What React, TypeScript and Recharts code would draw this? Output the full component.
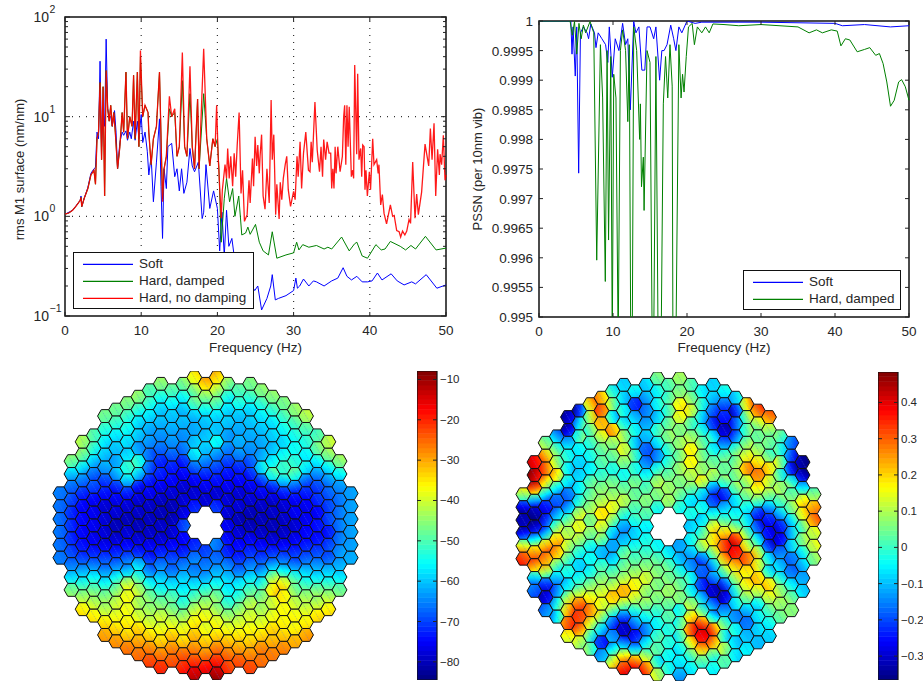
import React from 'react';
import { LineChart, Line, XAxis, YAxis, ReferenceLine, ReferenceArea, Legend, ScatterChart, Scatter } from 'recharts';

const FONT = '"Liberation Sans", Arial, sans-serif';
const TEXT = '#262626';

const freqTicks = [0, 10, 20, 30, 40, 50];
const logTicks = [0.1, 0.2, 0.3, 0.4, 0.5, 0.6, 0.7, 0.8, 0.9, 1, 2, 3, 4, 5, 6, 7, 8, 9, 10, 20, 30, 40, 50, 60, 70, 80, 90, 100];
const pssnTicks = [1, 0.9995, 0.999, 0.9985, 0.998, 0.9975, 0.997, 0.9965, 0.996, 0.9955, 0.995];

const softF = [0, 1, 2, 2.1, 2.2, 2.5, 3, 3.4, 3.8, 4, 4.2, 4.4, 4.6, 4.8, 5, 5.2, 5.4, 5.6, 5.8, 6, 6.2, 6.5, 6.7, 6.9, 7.2, 7.5, 7.7, 8, 8.2, 8.5, 8.7, 9, 9.2, 9.5, 9.7, 10, 10.2, 10.5, 10.8, 11, 11.3, 11.6, 12, 12.4, 12.6, 12.8, 13, 13.3, 13.5, 14, 14.4, 14.7, 15, 15.3, 15.6, 16, 16.4, 16.7, 17, 17.5, 18, 18.2, 18.5, 19, 19.5, 20, 20.3, 20.6, 20.9, 21.2, 21.5, 21.9, 22.2, 24.9, 25.3, 25.8, 26.5, 27, 27.2, 27.6, 28, 29, 30, 30.3, 30.5, 30.8, 31.3, 32, 32.6, 33, 34, 35, 35.8, 36.5, 37, 37.6, 38.3, 39, 39.7, 40.3, 41, 41.6, 42.8, 43.6, 44.5, 45.5, 46, 47.4, 48.8, 50];
const softV = [1.05, 1.15, 1.45, 1.6, 1.25, 1.5, 1.95, 2.7, 3, 3.1, 7, 6, 36, 5, 12, 8, 60, 12, 10, 10, 8, 11.5, 7, 3, 5.5, 7, 6.5, 7.2, 5.8, 7, 6, 9, 5.8, 9, 6, 10.5, 5.5, 7, 4.5, 2.6, 4, 1.4, 3.5, 9.5, 2, 0.6, 3, 1.9, 5, 5.4, 2.5, 3, 1.8, 3, 1.7, 2.2, 4.8, 3.2, 2.8, 3.5, 0.95, 1.1, 3.3, 1.2, 1.8, 1.2, 0.45, 1.1, 0.4, 1.15, 0.5, 0.6, 0.4, 0.18, 0.2, 0.115, 0.15, 0.2, 0.26, 0.145, 0.15, 0.16, 0.18, 0.24, 0.19, 0.2, 0.235, 0.2, 0.225, 0.22, 0.2, 0.225, 0.24, 0.305, 0.25, 0.23, 0.25, 0.22, 0.22, 0.225, 0.27, 0.23, 0.265, 0.225, 0.205, 0.22, 0.21, 0.26, 0.19, 0.205];

const dampedF = [0, 0.5, 1, 1.5, 2, 2.1, 2.2, 2.5, 3, 3.4, 3.8, 4, 4.2, 4.4, 4.6, 4.8, 5, 5.2, 5.4, 5.6, 5.8, 6, 6.2, 6.4, 6.6, 6.9, 7.2, 7.5, 7.7, 8, 8.2, 8.5, 8.8, 9, 9.2, 9.5, 9.7, 9.9, 10.2, 10.5, 10.9, 11, 11.3, 11.6, 12, 12.4, 12.8, 13, 13.3, 13.7, 14, 14.4, 14.7, 15, 15.4, 15.7, 16, 16.4, 16.7, 17, 17.4, 17.6, 18.2, 18.6, 19, 19.4, 19.7, 20, 20.2, 20.5, 20.9, 21.2, 21.6, 22, 22.3, 22.8, 23.2, 23.7, 24, 24.3, 25, 25.5, 26, 26.7, 27.2, 27.8, 29, 30, 30.4, 30.7, 31.2, 32, 33, 34, 34.5, 35, 36.3, 37.3, 38, 38.3, 39, 39.7, 40.8, 41.5, 42, 42.7, 44, 44.7, 45.4, 46, 47.3, 48.7, 50];
const dampedV = [1.05, 1.08, 1.15, 1.28, 1.45, 1.55, 1.25, 1.5, 1.9, 2.6, 2.9, 2.1, 6, 7, 22, 3.7, 20, 1.6, 29, 12, 9, 13, 8, 11, 7, 3, 5, 11, 7, 28, 6, 10, 8, 26, 6, 28, 5, 40, 10, 13, 11, 7, 3.3, 6, 8, 28, 1.5, 3, 4, 12, 10, 11, 4, 5, 23, 5, 4, 17, 5, 3, 15, 3, 17, 6, 3.2, 6, 5, 6, 3, 0.55, 1.5, 2.4, 1.4, 1.9, 1, 1.6, 0.65, 0.68, 0.78, 0.66, 0.83, 0.55, 0.45, 0.41, 0.7, 0.38, 0.41, 0.43, 0.55, 0.46, 0.52, 0.49, 0.51, 0.47, 0.49, 0.47, 0.62, 0.45, 0.53, 0.55, 0.4, 0.38, 0.52, 0.46, 0.47, 0.56, 0.5, 0.46, 0.51, 0.47, 0.63, 0.46, 0.48];

const noDampF = [0, 0.5, 1, 1.5, 2, 2.1, 2.2, 2.5, 3, 3.4, 3.8, 4, 4.2, 4.4, 4.6, 4.8, 5, 5.2, 5.4, 5.6, 5.8, 6, 6.2, 6.4, 6.6, 6.9, 7.2, 7.5, 7.7, 8, 8.2, 8.5, 8.8, 9, 9.2, 9.5, 9.7, 9.9, 10.2, 10.5, 10.9, 11, 11.3, 11.6, 12, 12.4, 12.8, 13, 13.3, 13.7, 14, 14.4, 14.7, 15, 15.4, 15.7, 16, 16.4, 16.7, 17, 17.4, 17.6, 18.2, 18.6, 19, 19.4, 19.7, 19.9, 20.1, 20.5, 20.65, 21, 21.2, 21.35, 21.55, 21.75, 22, 22.2, 22.4, 22.6, 22.85, 23.1, 23.3, 23.55, 23.9, 24.15, 24.3, 24.6, 24.75, 24.95, 25.15, 25.3, 25.5, 25.6, 25.8, 26, 26.25, 26.5, 26.8, 27.05, 27.2, 27.4, 27.65, 27.8, 28.1, 28.25, 28.45, 28.65, 28.9, 29.1, 29.3, 29.6, 30, 30.2, 30.45, 30.6, 30.85, 31.05, 31.3, 31.6, 31.95, 32.15, 32.3, 32.45, 32.6, 32.8, 33.1, 33.4, 33.6, 33.8, 33.95, 34.2, 34.4, 34.65, 34.87, 35, 35.15, 35.3, 35.45, 35.57, 35.8, 36.1, 36.4, 36.57, 36.7, 36.85, 37, 37.15, 37.3, 37.58, 37.75, 37.88, 38.02, 38.28, 38.41, 38.58, 38.8, 38.94, 39.07, 39.25, 39.37, 39.5, 39.68, 39.94, 40.1, 40.38, 40.55, 40.9, 41.1, 41.2, 41.43, 41.65, 41.87, 42.2, 42.7, 43, 43.2, 43.53, 43.85, 44.05, 44.3, 44.6, 44.85, 45.15, 45.35, 45.63, 45.93, 46.15, 46.37, 46.8, 47.25, 47.47, 47.73, 47.95, 48.17, 48.43, 48.65, 48.9, 49.13, 49.22, 49.43, 49.65, 49.87, 50];
const noDampV = [1.05, 1.08, 1.15, 1.28, 1.45, 1.55, 1.25, 1.5, 1.9, 2.6, 2.9, 2.1, 6, 7, 22, 3.7, 20, 1.6, 29, 12, 9, 13, 8, 11, 7, 3, 5, 11, 7, 28, 6, 10, 8, 26, 6, 28, 5, 46, 10, 13, 11, 7, 3.3, 6, 8, 28, 1.4, 3, 4, 16, 10, 12, 4, 5, 44, 5, 4, 32, 5, 3, 15, 3, 48, 6, 3.2, 6, 5, 13, 4, 0.96, 1.85, 3.3, 2.4, 4.8, 2.4, 4, 2, 4.3, 2.5, 5.2, 11, 1.7, 2.9, 0.89, 1.04, 2.3, 1.36, 3.8, 2, 6.3, 3.2, 5.2, 2.7, 4, 6.6, 1.6, 1.18, 3, 1.36, 14.7, 3.7, 6.6, 1.04, 2.1, 0.94, 2.2, 1.47, 2.4, 3.3, 4, 1.85, 1.26, 1.78, 1.47, 4, 2.5, 5.6, 1.9, 4.3, 7, 2.9, 2.8, 5.6, 3.5, 6.3, 14, 4.6, 2.8, 5, 2.5, 5.9, 3.7, 5.6, 4.3, 4.3, 1.9, 3, 1.9, 5, 2.7, 5, 2.8, 4, 10, 13, 3.3, 13, 5, 12.6, 2.5, 2.9, 2.4, 33, 4.2, 27, 3.7, 4.8, 2.5, 5.2, 5, 1.85, 2.9, 1.6, 2.8, 1.85, 6, 3.3, 3.7, 2.7, 3.3, 1.3, 1.65, 1.07, 0.84, 1.3, 1, 1.02, 0.72, 0.7, 0.62, 0.71, 0.65, 0.71, 0.93, 0.85, 3.5, 0.96, 1.67, 1.04, 1.75, 5.3, 4.2, 3.2, 7.6, 3.7, 8.6, 1.6, 4.7, 2.6, 4.2, 3.3, 6.5, 2.3, 2.6];

const pssnSoftF = [0, 4.3, 4.46, 4.6, 4.9, 5.1, 5.36, 5.6, 6, 6.5, 6.7, 7, 7.5, 7.7, 8, 8.5, 9, 9.3, 9.5, 9.9, 10.3, 10.8, 11.3, 11.7, 12, 12.34, 12.8, 13.1, 13.5, 13.9, 14.3, 14.6, 15, 15.5, 15.8, 16.3, 16.6, 16.9, 17.3, 17.8, 18.2, 18.5, 18.9, 19.3, 20, 21.1, 22, 25, 30, 35, 40, 41, 44, 47.5, 50];
const pssnSoftV = [1, 1, 0.99944, 0.9999, 0.99907, 0.9999, 0.99743, 0.9998, 0.9999, 0.9998, 0.9997, 0.99995, 0.9998, 0.99955, 0.9998, 0.9997, 0.9996, 0.9993, 0.9999, 0.99905, 0.9997, 0.9995, 0.99996, 0.9996, 0.9997, 0.9985, 0.99999, 0.9998, 0.9999, 0.99917, 0.99917, 0.9999, 0.9999, 0.9997, 0.9999, 0.9990, 0.9995, 0.9995, 0.9996, 0.99993, 0.9997, 0.9995, 0.9999, 0.9998, 1, 0.99996, 0.99998, 0.99998, 0.99998, 0.99997, 0.99996, 0.99992, 0.99994, 0.9999, 0.99992];

const pssnDampedF = [0, 4.2, 4.5, 4.8, 5.1, 5.4, 5.7, 6, 6.3, 6.9, 7.4, 7.8, 8.3, 8.6, 8.96, 9.2, 9.4, 9.7, 9.9, 10.1, 10.4, 10.7, 11, 11.3, 11.7, 12, 12.2, 12.4, 12.6, 12.8, 13.2, 13.6, 13.7, 13.85, 14.1, 14.2, 14.6, 15, 15.3, 15.5, 15.8, 16.1, 16.5, 16.8, 17.1, 17.4, 17.7, 18, 18.1, 18.3, 18.5, 18.9, 19.2, 19.4, 19.6, 19.9, 20.2, 20.7, 21, 21.4, 22, 22.5, 23, 23.5, 25, 27, 30, 35, 36.5, 37.5, 38.3, 39.5, 40.3, 40.8, 41.4, 42, 43, 44, 44.7, 45.5, 46, 46.5, 47, 47.5, 48, 48.6, 49, 49.5, 50];
const pssnDampedV = [1, 1, 0.99976, 0.99999, 0.99944, 0.99996, 0.9997, 0.99993, 0.9998, 0.99999, 0.9998, 0.99596, 0.9996, 0.9987, 0.9956, 0.9995, 0.9963, 0.9994, 0.9945, 0.9991, 0.9987, 0.9945, 0.9995, 0.99985, 0.9995, 0.9983, 0.9996, 0.9945, 0.9945, 0.9999, 0.9995, 0.998, 0.9986, 0.9972, 0.9977, 0.9968, 0.9995, 0.9993, 0.9945, 0.9945, 0.9994, 0.9945, 0.9945, 0.9986, 0.9994, 0.9987, 0.9996, 0.9989, 0.9945, 0.9945, 0.9945, 0.9996, 0.9987, 0.9991, 0.9988, 0.9994, 0.9999, 0.99996, 0.9996, 0.9999, 0.9998, 0.9999, 0.9998, 0.99995, 0.99994, 0.99992, 0.99994, 0.9999, 0.9998, 0.99985, 0.9998, 0.99985, 0.99983, 0.99958, 0.9997, 0.99968, 0.99948, 0.99952, 0.99955, 0.99942, 0.99945, 0.99928, 0.99897, 0.99856, 0.99866, 0.99897, 0.99901, 0.99889, 0.99866];

// first row index of each hexagon column, left to right (rows are half a hexagon high)
const columnStarts = [-5, -10, -13, -14, -17, -18, -19, -20, -21, -22, -21, -22, -23, -22, -23, -22, -21, -22, -21, -20, -19, -18, -17, -14, -13, -10, -5];

// rms surface per segment, top to bottom in each column
const segmentsLeft = [
  [-66, -67, -67, -67, -67, -66],
  [-48, -60, -67, -70, -72, -72, -72, -70, -66, -58, -47],
  [-44, -48, -58, -66, -72, -75, -75, -75, -74, -70, -62, -53, -44, -36],
  [-50, -53, -60, -67, -70, -75, -76, -76, -76, -73, -66, -56, -48, -42, -36],
  [-48, -53, -57, -60, -63, -70, -74, -78, -78, -78, -76, -70, -64, -55, -46, -42, -35, -30],
  [-48, -52, -57, -60, -62, -62, -72, -76, -78, -80, -78, -73, -66, -55, -46, -41, -38, -34, -29],
  [-47, -52, -55, -58, -58, -53, -60, -73, -78, -80, -78, -75, -68, -60, -42, -38, -38, -36, -33, -27],
  [-46, -53, -58, -60, -63, -54, -60, -74, -78, -79, -80, -78, -73, -60, -52, -43, -43, -40, -34, -30, -26],
  [-50, -53, -58, -62, -64, -67, -68, -73, -76, -79, -80, -79, -76, -72, -65, -55, -47, -44, -40, -34, -28, -23],
  [-46, -54, -59, -61, -64, -67, -72, -73, -76, -79, -80, -79, -78, -73, -66, -60, -54, -47, -41, -38, -33, -27, -21],
  [-50, -56, -60, -62, -64, -68, -73, -75, -78, -80, -80, -78, -75, -70, -66, -58, -50, -46, -40, -33, -28, -24],
  [-47, -55, -60, -61, -64, -66, -72, -75, -78, -78, -77, -70, -75, -73, -66, -60, -56, -52, -44, -38, -33, -25, -20],
  [-37, -46, -50, -60, -62, -60, -58, -68, -75, -78, -73, -72, -66, -65, -58, -50, -42, -36, -32, -28, -22, -14],
  [-33, -46, -55, -60, -60, -60, -65, -72, -76, -78, -70, -66, -62, -52, -44, -38, -38, -33, -27, -18],
  [-34, -43, -50, -58, -60, -56, -64, -70, -74, -78, -72, -66, -67, -62, -55, -47, -44, -38, -34, -27, -20, -12],
  [-46, -54, -58, -60, -63, -65, -70, -74, -76, -78, -78, -76, -75, -73, -66, -60, -56, -52, -44, -38, -32, -26, -22],
  [-50, -54, -60, -62, -62, -65, -72, -75, -78, -78, -80, -78, -75, -72, -66, -57, -52, -45, -40, -35, -30, -24],
  [-47, -52, -58, -60, -62, -64, -68, -72, -76, -78, -80, -80, -76, -72, -66, -58, -50, -43, -40, -37, -33, -28, -23],
  [-46, -52, -57, -60, -62, -62, -58, -70, -76, -79, -80, -79, -75, -70, -63, -53, -46, -43, -39, -34, -28, -26],
  [-46, -52, -57, -59, -60, -56, -53, -72, -78, -79, -80, -78, -72, -63, -45, -36, -40, -38, -34, -31, -27],
  [-47, -51, -55, -58, -55, -52, -59, -73, -78, -79, -79, -75, -68, -56, -38, -36, -37, -36, -33, -28],
  [-45, -50, -54, -55, -53, -52, -68, -75, -76, -78, -76, -72, -66, -52, -46, -41, -37, -36, -31],
  [-43, -50, -53, -56, -57, -67, -73, -76, -76, -75, -73, -68, -60, -52, -44, -40, -36, -30],
  [-50, -48, -56, -64, -70, -72, -75, -74, -74, -70, -64, -57, -47, -42, -35],
  [-42, -46, -56, -64, -68, -70, -70, -73, -70, -68, -60, -52, -43, -36],
  [-46, -56, -64, -66, -66, -66, -66, -64, -62, -57, -48],
  [-63, -63, -63, -63, -63, -62],
];

// second map, in hundredths
const segmentsRight = [
  [8, -27, -32, -25, 14, 32],
  [38, 42, 30, -12, -33, -30, -5, 24, 25, -8, -18],
  [6, 22, 28, 18, -6, -25, -22, -10, 22, 25, 10, -22, -28, -15],
  [-12, 2, 8, 16, -5, -18, -12, 5, 20, 22, 3, -10, -14, -3, -5],
  [-30, -28, -10, -3, -5, -6, -16, -12, 4, 10, 10, 2, -3, -6, 10, 22, 30, 16],
  [-22, -7, 0, -5, -8, -8, -5, -2, 10, 14, 8, -2, -8, -3, 8, 28, 32, 26, 10],
  [20, 12, 4, 0, -3, -5, 2, 4, 8, 6, 6, -3, -4, -3, 6, 16, 25, 14, 0, 2],
  [22, 28, 22, 12, 4, 2, 0, 6, 10, 18, 12, 4, -10, 0, 6, 12, 14, 8, -8, -22, -12],
  [-2, 6, -4, 22, 8, 4, -2, 4, 8, 14, 6, -8, -12, -8, 2, 10, 20, 4, -18, -14, -5, 14],
  [-8, -8, -4, -3, 8, 12, 6, -3, 4, 10, 0, -12, -10, 2, 4, 10, 22, 8, -18, -30, -15, 16, 34],
  [-6, -22, -10, -4, -8, 0, -2, 4, 4, 2, -2, -8, -3, 2, 8, 16, 12, -2, -15, -24, -8, 28],
  [-8, -12, -15, -12, -10, -18, -15, -4, 2, 6, 2, -5, -3, 0, 6, 12, 8, 6, -4, -14, -6, 8, 28],
  [4, -4, -4, -8, 0, -6, -14, -2, 8, 6, -2, -4, 2, 6, 6, 6, 0, -4, 0, 2, -2, 10],
  [2, 2, 2, 4, 6, 0, 0, 4, 8, 8, -6, 2, 5, 8, 4, 2, -2, -2, -4, -3],
  [8, 6, 16, 14, 6, 8, 6, 8, 6, 4, -2, -12, -10, -2, 4, 6, -2, 2, 0, -4, -6, -12],
  [2, 6, 12, 2, 8, 16, 16, 10, 4, -6, -3, -8, -4, -10, -14, -4, -4, 8, 18, 30, 16, 2, -5],
  [-5, -2, -8, -3, 4, 6, 8, 12, -8, -4, -6, 2, 8, -16, -18, -22, -10, 2, 30, 38, 22, 2],
  [-8, -10, -18, -22, -6, -4, 4, 8, -14, -20, -4, 14, 18, 8, -10, -16, -30, -16, -5, 28, 24, 2, -4],
  [-5, -18, -24, -30, -16, 2, 4, 2, -22, -10, 2, 20, 32, 22, 4, -20, -28, -14, 2, -2, 8, 2],
  [-8, -22, -18, -16, 2, 6, 6, 4, -6, -4, 6, 34, 36, 22, 10, -2, -6, -14, -4, -8, -6],
  [18, 6, 2, 6, 14, 24, 10, 6, -4, -6, 4, 14, 28, 18, 16, 6, -10, -16, -10, -6],
  [28, 10, 4, 8, 18, 26, 16, 2, -22, -20, -6, 12, 14, 20, 12, -4, -6, -8, -10],
  [26, 8, 4, 4, 18, 12, 6, -12, -24, -26, -22, -6, -3, 18, 12, 2, -4, -8],
  [2, -2, 6, 0, 8, 2, -10, -24, -26, -16, -10, -2, 8, 8, 4],
  [-16, -20, -24, -2, 4, 6, -6, -10, -8, -16, -16, -5, 4, 6],
  [-34, -30, -6, 16, 16, 4, 6, -4, -10, -12, -8],
  [6, 24, 26, 12, 12, 6],
];

const leftBarTicks = [-80, -70, -60, -50, -40, -30, -20, -10];
const rightBarTicks = [-30, -20, -10, 0, 10, 20, 30, 40];
const leftRange = [-84.5, -7.9];
const rightRange = [-36.6, 48.4];

const legendColors: Record<string, string> = { Soft: '#0000ff', 'Hard, damped': '#008000', 'Hard, no damping': '#ff0000' };

const toRows = (f: number[], v: number[]) => f.map((x, i) => ({ f: x, v: v[i] }));

const clamp = (a: number) => Math.max(0, Math.min(1, a));
const jet = (t: number) => {
  const c = (a: number) => Math.round(255 * clamp(1.5 - Math.abs(4 * t - a)));
  return `rgb(${c(3)},${c(2)},${c(1)})`;
};

const isHole = (c: number, r: number) => (c === 0 && Math.abs(r) <= 2) || (Math.abs(c) === 1 && Math.abs(r) === 1);

const buildHexes = (cols: number[][]) => {
  const lookup = new Map<string, number>();
  const rows: any[] = [];
  cols.forEach((vals, k) => {
    const col = k - 13;
    let row = columnStarts[k];
    vals.forEach((value) => {
      while (isHole(col, row)) row += 2;
      lookup.set(`${col},${row}`, value);
      rows.push({ col, row, value });
      row += 2;
    });
  });
  const dirs = [[0, -2], [0, 2], [1, -1], [1, 1], [-1, -1], [-1, 1]];
  return rows.map((p) => {
    let gx = 0;
    let gy = 0;
    dirs.forEach(([dc, dr]) => {
      const other = lookup.get(`${p.col + dc},${p.row + dr}`);
      if (other === undefined) return;
      gx += ((other - p.value) * dc * 0.866) / 3;
      gy += ((other - p.value) * dr * 0.5) / 3;
    });
    return { ...p, gx, gy };
  });
};

const HEX_R = 7.44;

const makeHexShape = (prefix: string, range: number[]) => (props: any) => {
  const { cx, cy, col, row, value, gx, gy } = props;
  const pts = [0, 60, 120, 180, 240, 300]
    .map((a) => `${cx + HEX_R * Math.cos((a * Math.PI) / 180)},${cy + HEX_R * Math.sin((a * Math.PI) / 180)}`)
    .join(' ');
  const id = `${prefix}${col}_${row}`;
  const mag = Math.hypot(gx, gy) || 1;
  const ux = (gx / mag) * 6.44;
  const uy = (gy / mag) * 6.44;
  const colorOf = (v: number) => jet(clamp((v - range[0]) / (range[1] - range[0])));
  return (
    <g>
      <linearGradient id={id} gradientUnits="userSpaceOnUse" x1={cx - ux} y1={cy - uy} x2={cx + ux} y2={cy + uy}>
        <stop offset="0%" stopColor={colorOf(value - mag / 2)} />
        <stop offset="50%" stopColor={colorOf(value)} />
        <stop offset="100%" stopColor={colorOf(value + mag / 2)} />
      </linearGradient>
      <polygon points={pts} fill={`url(#${id})`} stroke="#111" strokeWidth={1} />
      <line x1={cx - HEX_R * 0.5} y1={cy - HEX_R * 0.866} x2={cx + HEX_R * 0.5} y2={cy + HEX_R * 0.866} stroke="#5a6cf0" strokeOpacity={0.6} strokeWidth={0.7} strokeDasharray="1 1" />
    </g>
  );
};

const HexMap = ({ left, top, cols, range, prefix }: any) => (
  <div style={{ position: 'absolute', left, top }}>
    <ScatterChart width={335} height={309} margin={{ top: 0, right: 0, bottom: 0, left: 0 }}>
      <XAxis type="number" dataKey="col" domain={[-15, 15]} hide />
      <YAxis type="number" dataKey="row" domain={[-24, 24]} reversed hide />
      <Scatter data={buildHexes(cols)} isAnimationActive={false} shape={makeHexShape(prefix, range)} />
    </ScatterChart>
  </div>
);

const ColorBar = ({ left, top, height, range, ticks, scale }: any) => {
  const levels = Array.from({ length: 64 }, (_, i) => i);
  const step = (range[1] - range[0]) / 64;
  const fmt = (v: number) => {
    const s = scale === 1 ? String(Math.abs(v)) : String(Math.abs(v) / 100);
    return (v < 0 ? '\u2212' : '') + s;
  };
  const BarTick = ({ payload }: any) => {
    const y = payload.coordinate;
    return (
      <g>
        <line x1={0} x2={4} y1={y} y2={y} stroke="#222" />
        <line x1={16} x2={20} y1={y} y2={y} stroke="#222" />
        <text x={23} y={y + 4} fontSize={11.5} fontFamily={FONT} fill={TEXT}>{fmt(payload.value)}</text>
      </g>
    );
  };
  return (
    <div style={{ position: 'absolute', left, top }}>
      <ScatterChart width={60} height={height} margin={{ top: 0, right: 0, bottom: 0, left: 0 }}>
        <XAxis type="number" dataKey="x" domain={[0, 1]} hide />
        <YAxis type="number" dataKey="y" orientation="right" domain={range} width={40} ticks={ticks} interval={0} axisLine={false} tickLine={false} tick={<BarTick />} />
        {levels.map((i) => (
          <ReferenceArea key={i} x1={0} x2={1} y1={range[0] + i * step} y2={Math.min(range[1], range[0] + (i + 1.1) * step)} fill={jet((i + 0.5) / 64)} fillOpacity={1} stroke="none" />
        ))}
        <ReferenceArea x1={0} x2={1} y1={range[0]} y2={range[1]} fill="none" stroke="#111" strokeWidth={1.2} />
        <Scatter data={[{ x: 0, y: range[0] }, { x: 1, y: range[1] }]} isAnimationActive={false} shape={() => <g />} />
      </ScatterChart>
    </div>
  );
};

const legendBox = (items: any[]) => (
  <div style={{ background: '#fff', border: '1.5px solid #111', boxSizing: 'border-box', height: '100%', padding: '2px 0 0 9px', fontFamily: FONT, fontSize: 13.5, color: TEXT }}>
    {items.map((it) => (
      <div key={it.value} style={{ display: 'flex', alignItems: 'center', height: 17 }}>
        <svg width={50} height={4} style={{ marginRight: 6 }}>
          <line x1={0} x2={50} y1={2.3} y2={2.3} stroke={legendColors[it.value]} strokeWidth={1.2} />
        </svg>
        <span>{it.value}</span>
      </div>
    ))}
  </div>
);

const logLeft = 65;
const logRight = 381;
const LogYTick = ({ payload }: any) => {
  const y = payload.coordinate;
  const v = payload.value;
  const major = [0.1, 1, 10, 100].includes(v);
  const len = major ? 5 : 3;
  const exp = Math.round(Math.log10(v));
  return (
    <g>
      <line x1={logLeft} x2={logLeft + len} y1={y} y2={y} stroke="#222" />
      <line x1={logLeft + logRight - len} x2={logLeft + logRight} y1={y} y2={y} stroke="#222" />
      {major && (
        <text x={33.5} y={y + 5} fontSize={14} fontFamily={FONT} fill={TEXT}>10</text>
      )}
      {major && (
        <text x={49.5} y={y - 4} fontSize={10.5} fontFamily={FONT} fill={TEXT}>{exp < 0 ? '\u2212' + Math.abs(exp) : exp}</text>
      )}
    </g>
  );
};

const FreqTick = ({ payload, top, bottom }: any) => {
  const x = payload.coordinate;
  return (
    <g>
      <line x1={x} x2={x} y1={bottom} y2={bottom - 4} stroke="#222" />
      <line x1={x} x2={x} y1={top} y2={top + 4} stroke="#222" />
      <text x={x} y={bottom + 19} fontSize={13.5} textAnchor="middle" fontFamily={FONT} fill={TEXT}>{payload.value}</text>
    </g>
  );
};

const pssnLeft = 79;
const pssnWidth = 370;
const PssnTick = ({ payload }: any) => {
  const y = payload.coordinate;
  return (
    <g>
      <line x1={pssnLeft} x2={pssnLeft + 4} y1={y} y2={y} stroke="#222" />
      <line x1={pssnLeft + pssnWidth - 4} x2={pssnLeft + pssnWidth} y1={y} y2={y} stroke="#222" />
      <text x={pssnLeft - 6} y={y + 5} fontSize={13.5} textAnchor="end" fontFamily={FONT} fill={TEXT}>{payload.value}</text>
    </g>
  );
};

const dots = { stroke: '#333', strokeDasharray: '1 6', strokeWidth: 1.2 };
const labelStyle = { fontSize: 13.5, fontFamily: FONT, fill: TEXT };

const App = () => (
  <div style={{ position: 'absolute', left: 0, top: 0, width: 923, height: 682, overflow: 'hidden', background: '#fff' }}>
    <div style={{ position: 'absolute', left: 0, top: 0 }}>
      <LineChart width={460} height={360} margin={{ top: 17, right: 14, bottom: 0, left: 0 }}>
        <XAxis type="number" dataKey="f" domain={[0, 50]} ticks={freqTicks} interval={0} height={44} axisLine={false} tickLine={false} tick={<FreqTick top={17} bottom={316} />} label={{ value: 'Frequency (Hz)', position: 'insideBottom', offset: 8, style: labelStyle }} />
        <YAxis type="number" scale="log" dataKey="v" domain={[0.1, 100]} allowDataOverflow ticks={logTicks} interval={0} width={65} axisLine={false} tickLine={false} tick={<LogYTick />} label={{ value: 'rms M1 surface (nm/nm)', angle: -90, position: 'insideLeft', offset: 19, dy: 3, style: { ...labelStyle, fontSize: 13, textAnchor: 'middle' } }} />
        <ReferenceArea x1={0} x2={50} y1={0.1} y2={100} fill="none" stroke="#111" strokeWidth={1.5} />
        {[10, 20, 30, 40].map((x) => <ReferenceLine key={x} x={x} {...dots} />)}
        {[1, 10].map((y) => <ReferenceLine key={y} y={y} {...dots} />)}
        <Line name="Soft" data={toRows(softF, softV)} dataKey="v" stroke="#0000ff" strokeWidth={1} dot={false} isAnimationActive={false} />
        <Line name="Hard, damped" data={toRows(dampedF, dampedV)} dataKey="v" stroke="#008000" strokeWidth={1} dot={false} isAnimationActive={false} />
        <Line name="Hard, no damping" data={toRows(noDampF, noDampV)} dataKey="v" stroke="#ff0000" strokeOpacity={0.9} strokeWidth={1.3} dot={false} isAnimationActive={false} />
        <Legend layout="vertical" align="center" verticalAlign="middle" itemSorter={null} content={({ payload }: any) => legendBox(payload)} wrapperStyle={{ left: 73, top: 252, width: 181, height: 57, bottom: 'auto', right: 'auto', margin: 0 }} />
      </LineChart>
    </div>

    <div style={{ position: 'absolute', left: 460, top: 0 }}>
      <LineChart width={463} height={360} margin={{ top: 21, right: 14, bottom: 0, left: 0 }}>
        <XAxis type="number" dataKey="f" domain={[0, 50]} ticks={freqTicks} interval={0} height={43} axisLine={false} tickLine={false} tick={<FreqTick top={21} bottom={317} />} label={{ value: 'Frequency (Hz)', position: 'insideBottom', offset: 8, style: labelStyle }} />
        <YAxis type="number" dataKey="v" domain={[0.995, 1]} allowDataOverflow ticks={pssnTicks} interval={0} width={79} axisLine={false} tickLine={false} tick={<PssnTick />} label={{ value: 'PSSN (per 10nm vib)', angle: -90, position: 'insideLeft', offset: 17, style: { ...labelStyle, fontSize: 13, textAnchor: 'middle' } }} />
        <ReferenceArea x1={0} x2={50} y1={0.995} y2={1} fill="none" stroke="#111" strokeWidth={1.5} />
        <Line name="Soft" data={toRows(pssnSoftF, pssnSoftV)} dataKey="v" stroke="#0000ff" strokeWidth={1} dot={false} isAnimationActive={false} />
        <Line name="Hard, damped" data={toRows(pssnDampedF, pssnDampedV)} dataKey="v" stroke="#008000" strokeWidth={1} dot={false} isAnimationActive={false} />
        <Legend layout="vertical" align="center" verticalAlign="middle" itemSorter={null} content={({ payload }: any) => legendBox(payload)} wrapperStyle={{ left: 283, top: 270, width: 158, height: 40, bottom: 'auto', right: 'auto', margin: 0 }} />
      </LineChart>
    </div>

    <HexMap left={38} top={371} cols={segmentsLeft} range={leftRange} prefix="a" />
    <HexMap left={500.5} top={371.5} cols={segmentsRight} range={rightRange} prefix="b" />
    <ColorBar left={416.5} top={371} height={309} range={leftRange} ticks={leftBarTicks} scale={1} />
    <ColorBar left={877.5} top={372} height={308} range={rightRange} ticks={rightBarTicks} scale={100} />
  </div>
);

export default App;
